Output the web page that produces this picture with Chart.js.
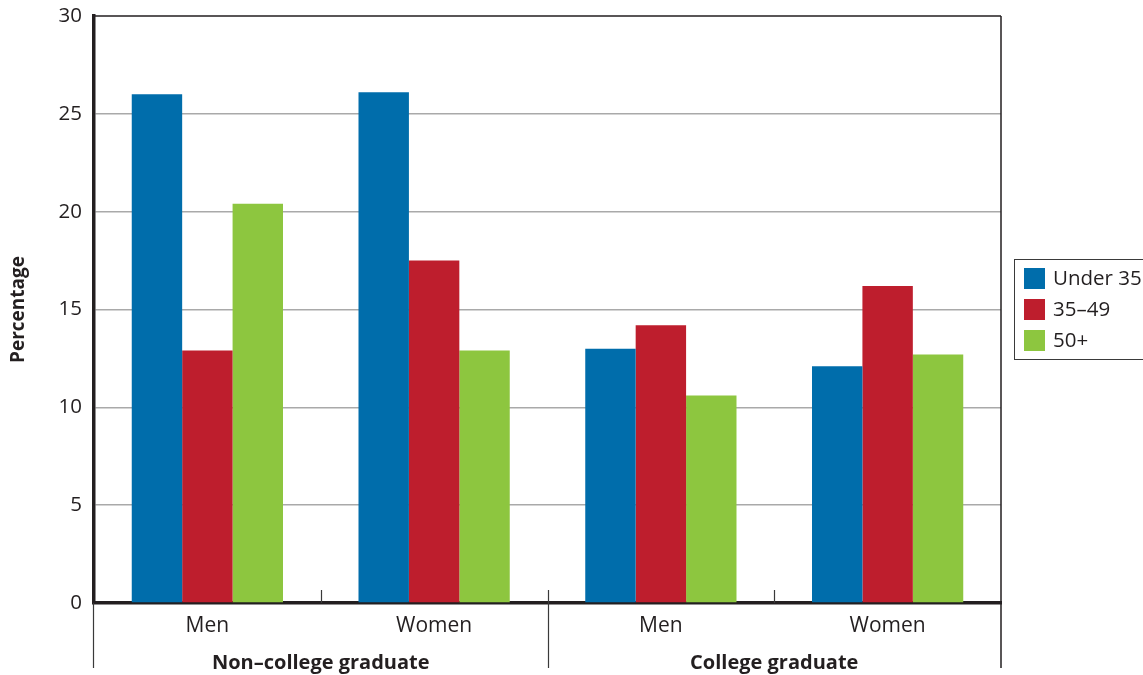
<!DOCTYPE html>
<html>
<head>
<meta charset="utf-8">
<script src="https://cdn.jsdelivr.net/npm/chart.js@4.4.1/dist/chart.umd.min.js"></script>
<style>
  html, body { margin: 0; padding: 0; background: #fff; }
  #wrap { width: 1143px; height: 675px; position: relative; }
</style>
</head>
<body>
<div id="wrap"><canvas id="chart"></canvas></div>
<script>
// categories on the x axis and the education groups under them
const categories = ["Men", "Women", "Men", "Women"];
const groupLabels = ["Non\u2013college graduate", "College graduate"];
const groupSize = 2;

// share of each age band (percentage)
const seriesNames = ["Under 35", "35\u201349", "50+"];
const under35 = [26.0, 26.1, 13.0, 12.1];
const age35to49 = [12.9, 17.5, 14.2, 16.2];
const age50plus = [20.4, 12.9, 10.6, 12.7];

const yMin = 0;
const yMax = 30;
const yStep = 5;

const colors = ["#006dab", "#be1e2d", "#8dc63f"];
const FONT = "'Open Sans', 'Noto Sans', sans-serif";
const INK = "#231f20";

// frame, separators, group labels and boxed legend
const decorations = {
  id: "decorations",
  afterDraw(chart) {
    const ctx = chart.ctx;
    const area = chart.chartArea;
    const x = chart.scales.x;
    const n = categories.length;
    const step = (area.right - area.left) / n;
    const lowY = 668;

    ctx.save();
    ctx.strokeStyle = INK;

    // top and right border
    ctx.lineWidth = 1.5;
    ctx.beginPath();
    ctx.moveTo(area.left, area.top);
    ctx.lineTo(area.right, area.top);
    ctx.moveTo(area.right, area.top);
    ctx.lineTo(area.right, lowY);
    ctx.stroke();

    // short ticks between categories, long lines between groups
    ctx.lineWidth = 1.2;
    ctx.strokeStyle = "#3a3a3a";
    ctx.beginPath();
    ctx.moveTo(area.left - 0.5, area.bottom);
    ctx.lineTo(area.left - 0.5, lowY);
    for (let i = 1; i < n; i++) {
      const bx = Math.round(area.left + step * i) + 0.5;
      ctx.moveTo(bx, area.bottom - 13);
      ctx.lineTo(bx, area.bottom);
      if (i % groupSize === 0) {
        ctx.moveTo(bx, area.bottom);
        ctx.lineTo(bx, lowY);
      }
    }
    ctx.stroke();

    // group labels
    ctx.fillStyle = INK;
    ctx.font = "bold 20px " + FONT;
    ctx.textAlign = "center";
    ctx.textBaseline = "middle";
    groupLabels.forEach((g, gi) => {
      const first = x.getPixelForValue(gi * groupSize);
      const last = x.getPixelForValue(gi * groupSize + groupSize - 1);
      ctx.fillText(g, (first + last) / 2, 663);
    });

    // legend box
    const lx = 1014, ly = 259;
    ctx.strokeStyle = "#3a3a3a";
    ctx.lineWidth = 1;
    ctx.strokeRect(lx + 0.5, ly + 0.5, 160, 100);
    ctx.font = "20.5px " + FONT;
    ctx.textAlign = "left";
    chart.data.datasets.forEach((ds, i) => {
      const ry = 268 + i * 31;
      ctx.fillStyle = ds.backgroundColor;
      ctx.fillRect(1024, ry, 21, 21);
      ctx.fillStyle = INK;
      ctx.fillText(ds.label, 1053, ry + 11);
    });
    ctx.restore();
  }
};

new Chart(document.getElementById("chart"), {
  type: "bar",
  data: {
    labels: categories,
    datasets: [under35, age35to49, age50plus].map((vals, i) => ({
      label: seriesNames[i],
      data: vals,
      backgroundColor: colors[i],
      borderWidth: 0,
      categoryPercentage: 0.667,
      barPercentage: 1.0,
    })),
  },
  options: {
    responsive: true,
    maintainAspectRatio: false,
    animation: false,
    layout: { padding: { top: 16, right: 142, bottom: 0, left: 0 } },
    plugins: {
      legend: { display: false },
      tooltip: { enabled: false },
    },
    scales: {
      x: {
        grid: { display: false, drawTicks: false },
        border: { display: true, color: INK, width: 3.5 },
        ticks: {
          color: INK,
          font: { family: FONT, size: 21 },
          padding: 10,
        },
        afterFit(scale) {
          scale.height = 72;
          scale.paddingLeft = 0;
          scale.paddingRight = 0;
        },
      },
      y: {
        min: yMin,
        max: yMax,
        ticks: {
          stepSize: yStep,
          color: INK,
          font: { family: FONT, size: 20.5 },
          padding: 12,
        },
        grid: {
          drawTicks: false,
          lineWidth: 1.5,
          color: (c) => (c.tick && (c.tick.value === yMax || c.tick.value === yMin)) ? "rgba(0,0,0,0)" : "#a9a9a9",
        },
        border: { display: true, color: INK, width: 3.5 },
        title: {
          display: true,
          text: "Percentage",
          color: INK,
          font: { family: FONT, size: 19, weight: "bold" },
          padding: { top: 7, bottom: 0 },
        },
        afterFit(scale) {
          scale.width = 94;
          scale.paddingTop = 0;
          scale.paddingBottom = 0;
        },
      },
    },
  },
  plugins: [decorations],
});
</script>
</body>
</html>
